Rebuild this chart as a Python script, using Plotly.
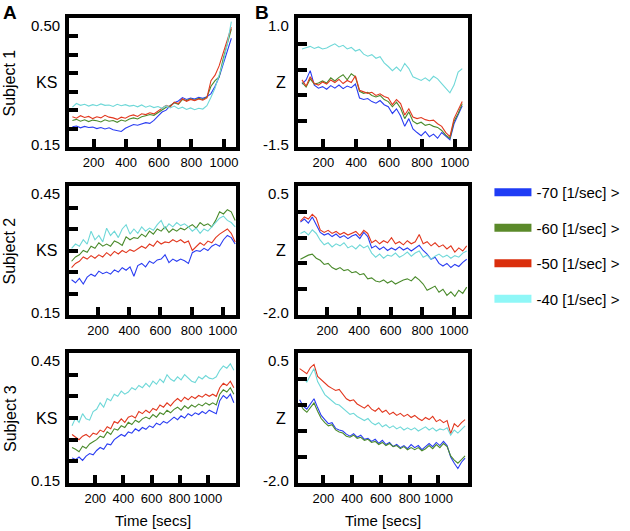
import plotly.graph_objects as go

# time samples (secs) for each row of panels
T1 = list(range(70, 1046, 25))
T2 = list(range(30, 1081, 25))
T3 = list(range(35, 1186, 25))

SERIES = ["-70 [1/sec] >", "-60 [1/sec] >", "-50 [1/sec] >", "-40 [1/sec] >"]
LINE_COLORS = ["#2a3df2", "#4b8b2c", "#e2381f", "#6fd8d8"]
LEGEND_COLORS = ["#1f3cf5", "#5b8a2a", "#da2e0c", "#8ff7f7"]

# Subject 1
ks1_blue = [0.205, 0.207, 0.202, 0.206, 0.203, 0.204, 0.200, 0.203, 0.199, 0.202,
            0.197, 0.195, 0.192, 0.201, 0.206, 0.211, 0.209, 0.213, 0.216, 0.214,
            0.222, 0.234, 0.245, 0.250, 0.262, 0.270, 0.275, 0.284, 0.279, 0.283,
            0.280, 0.285, 0.282, 0.286, 0.295, 0.315, 0.34, 0.375, 0.41, 0.445]
ks1_green = [0.222, 0.225, 0.220, 0.224, 0.219, 0.223, 0.221, 0.218, 0.224, 0.220,
             0.222, 0.217, 0.223, 0.220, 0.226, 0.229, 0.226, 0.232, 0.235, 0.238,
             0.236, 0.244, 0.250, 0.258, 0.262, 0.270, 0.266, 0.279, 0.276, 0.281,
             0.277, 0.282, 0.279, 0.285, 0.315, 0.33, 0.34, 0.39, 0.43, 0.47]
ks1_red = [0.232, 0.228, 0.235, 0.230, 0.233, 0.227, 0.232, 0.229, 0.236, 0.231,
           0.229, 0.225, 0.231, 0.228, 0.234, 0.237, 0.233, 0.240, 0.238, 0.243,
           0.240, 0.248, 0.256, 0.263, 0.258, 0.272, 0.268, 0.281, 0.274, 0.279,
           0.276, 0.280, 0.277, 0.283, 0.33, 0.345, 0.37, 0.405, 0.44, 0.475]
ks1_cyan = [0.258, 0.268, 0.263, 0.266, 0.261, 0.265, 0.262, 0.267, 0.263, 0.264,
            0.260, 0.266, 0.262, 0.265, 0.261, 0.263, 0.259, 0.264, 0.258, 0.262,
            0.257, 0.260, 0.255, 0.262, 0.256, 0.261, 0.254, 0.258, 0.252, 0.256,
            0.251, 0.255, 0.253, 0.262, 0.285, 0.31, 0.345, 0.38, 0.43, 0.49]

z1_blue = [-0.28, -0.20, -0.02, -0.30, -0.36, -0.33, -0.38, -0.31, -0.36, -0.30,
           -0.37, -0.32, -0.35, -0.28, -0.55, -0.58, -0.56, -0.62, -0.65, -0.60,
           -0.68, -0.72, -0.85, -0.76, -0.90, -1.10, -0.95, -1.15, -1.22, -1.28,
           -1.20, -1.30, -1.25, -1.33, -1.22, -1.30, -1.36, -1.05, -0.88, -0.70]
z1_green = [-0.25, -0.34, -0.18, -0.28, -0.26, -0.22, -0.26, -0.16, -0.22, -0.15,
            -0.10, -0.20, -0.08, -0.14, -0.42, -0.46, -0.44, -0.50, -0.53, -0.50,
            -0.58, -0.62, -0.72, -0.63, -0.75, -0.95, -0.82, -1.00, -1.05, -1.02,
            -1.08, -1.06, -1.10, -1.12, -1.18, -1.27, -1.33, -1.00, -0.85, -0.66]
z1_red = [-0.20, -0.32, -0.14, -0.27, -0.30, -0.24, -0.28, -0.20, -0.25, -0.19,
          -0.27, -0.21, -0.25, -0.12, -0.40, -0.43, -0.46, -0.44, -0.50, -0.47,
          -0.52, -0.55, -0.68, -0.58, -0.66, -0.88, -0.76, -0.92, -0.95, -0.93,
          -0.97, -0.99, -0.98, -1.05, -1.10, -1.22, -1.30, -0.95, -0.80, -0.62]
z1_cyan = [0.40, 0.43, 0.45, 0.41, 0.44, 0.40, 0.42, 0.46, 0.50, 0.44,
           0.47, 0.40, 0.43, 0.36, 0.39, 0.30, 0.26, 0.29, 0.22, 0.25,
           0.13, 0.06, -0.02, 0.05, -0.03, 0.12, 0.02, -0.14, -0.18, -0.21,
           -0.16, -0.22, -0.13, -0.18, -0.27, -0.35, -0.45, -0.30, -0.05, 0.02]

# Subject 2
ks2_blue = [0.232, 0.225, 0.235, 0.222, 0.238, 0.245, 0.24, 0.252, 0.246, 0.25,
            0.245, 0.255, 0.25, 0.26, 0.254, 0.262, 0.24, 0.265, 0.27, 0.262,
            0.275, 0.27, 0.278, 0.28, 0.29, 0.272, 0.28, 0.275, 0.28, 0.276,
            0.27, 0.295, 0.30, 0.298, 0.305, 0.30, 0.31, 0.315, 0.31, 0.325,
            0.335, 0.33, 0.315]
ks2_green = [0.275, 0.285, 0.29, 0.30, 0.296, 0.31, 0.305, 0.318, 0.31, 0.315,
             0.31, 0.322, 0.318, 0.312, 0.332, 0.325, 0.33, 0.328, 0.338, 0.332,
             0.345, 0.338, 0.35, 0.345, 0.355, 0.342, 0.35, 0.345, 0.352, 0.348,
             0.355, 0.36, 0.352, 0.365, 0.358, 0.362, 0.355, 0.37, 0.39, 0.385,
             0.395, 0.39, 0.37]
ks2_red = [0.26, 0.27, 0.275, 0.285, 0.28, 0.288, 0.282, 0.29, 0.285, 0.295,
           0.288, 0.298, 0.292, 0.30, 0.295, 0.302, 0.298, 0.305, 0.31, 0.305,
           0.315, 0.31, 0.322, 0.315, 0.32, 0.318, 0.325, 0.32, 0.325, 0.318,
           0.322, 0.30, 0.31, 0.318, 0.312, 0.322, 0.318, 0.33, 0.338, 0.345,
           0.35, 0.34, 0.32]
ks2_cyan = [0.305, 0.315, 0.31, 0.325, 0.315, 0.345, 0.325, 0.335, 0.32, 0.352,
            0.335, 0.345, 0.33, 0.35, 0.36, 0.338, 0.35, 0.34, 0.355, 0.345,
            0.352, 0.347, 0.36, 0.37, 0.35, 0.362, 0.355, 0.365, 0.358, 0.362,
            0.355, 0.345, 0.352, 0.34, 0.35, 0.345, 0.355, 0.365, 0.375, 0.38,
            0.37, 0.365, 0.355]

z2_blue = [-0.20, -0.14, -0.22, -0.10, -0.25, -0.40, -0.45, -0.42, -0.48, -0.43,
           -0.50, -0.46, -0.52, -0.47, -0.44, -0.52, -0.40, -0.48, -0.70, -0.66,
           -0.73, -0.68, -0.75, -0.70, -0.74, -0.68, -0.74, -0.70, -0.76, -0.70,
           -0.65, -0.75, -0.82, -0.92, -0.88, -1.00, -1.05, -1.00, -1.08, -1.02,
           -1.06, -0.98, -0.92]
z2_green = [-0.92, -0.88, -0.84, -0.82, -0.90, -0.94, -1.02, -1.00, -1.08, -1.12,
            -1.08, -1.14, -1.12, -1.18, -1.16, -1.22, -1.20, -1.30, -1.28, -1.34,
            -1.36, -1.32, -1.38, -1.34, -1.40, -1.36, -1.32, -1.30, -1.34, -1.26,
            -1.32, -1.40, -1.52, -1.48, -1.44, -1.56, -1.50, -1.62, -1.55, -1.64,
            -1.52, -1.58, -1.46]
z2_red = [-0.18, -0.10, -0.14, -0.05, -0.12, -0.35, -0.40, -0.36, -0.42, -0.38,
          -0.44, -0.40, -0.45, -0.41, -0.38, -0.46, -0.36, -0.42, -0.60, -0.55,
          -0.62, -0.56, -0.60, -0.50, -0.62, -0.58, -0.64, -0.56, -0.62, -0.58,
          -0.44, -0.62, -0.58, -0.66, -0.60, -0.68, -0.64, -0.72, -0.66, -0.78,
          -0.70, -0.76, -0.66]
z2_cyan = [-0.42, -0.38, -0.45, -0.35, -0.42, -0.55, -0.64, -0.60, -0.68, -0.62,
           -0.66, -0.60, -0.70, -0.66, -0.72, -0.64, -0.70, -0.66, -0.80, -0.88,
           -0.82, -0.90, -0.84, -0.86, -0.80, -0.88, -0.84, -0.78, -0.86, -0.80,
           -0.76, -0.88, -0.84, -0.92, -0.86, -0.82, -0.88, -0.84, -0.90, -0.85,
           -0.88, -0.80, -0.76]

# Subject 3
ks3_blue = [0.208, 0.204, 0.21, 0.202, 0.212, 0.218, 0.215, 0.225, 0.232, 0.228,
            0.24, 0.238, 0.25, 0.256, 0.262, 0.258, 0.268, 0.265, 0.275, 0.27,
            0.278, 0.274, 0.282, 0.278, 0.288, 0.284, 0.292, 0.288, 0.296, 0.302,
            0.296, 0.305, 0.30, 0.31, 0.305, 0.312, 0.308, 0.315, 0.31, 0.318,
            0.314, 0.31, 0.34, 0.352, 0.345, 0.355, 0.335]
ks3_green = [0.232, 0.228, 0.222, 0.235, 0.23, 0.24, 0.245, 0.25, 0.258, 0.255,
             0.268, 0.262, 0.275, 0.272, 0.282, 0.278, 0.29, 0.285, 0.295, 0.29,
             0.298, 0.302, 0.298, 0.308, 0.302, 0.312, 0.308, 0.318, 0.312, 0.32,
             0.325, 0.318, 0.328, 0.322, 0.33, 0.325, 0.332, 0.328, 0.335, 0.33,
             0.335, 0.33, 0.355, 0.365, 0.36, 0.37, 0.355]
ks3_red = [0.262, 0.255, 0.25, 0.258, 0.262, 0.256, 0.265, 0.262, 0.272, 0.268,
           0.28, 0.275, 0.292, 0.288, 0.298, 0.29, 0.302, 0.305, 0.30, 0.315,
           0.31, 0.318, 0.312, 0.322, 0.318, 0.33, 0.325, 0.335, 0.328, 0.338,
           0.345, 0.338, 0.348, 0.342, 0.35, 0.345, 0.352, 0.348, 0.355, 0.35,
           0.355, 0.35, 0.37, 0.38, 0.375, 0.385, 0.37]
ks3_cyan = [0.282, 0.30, 0.29, 0.31, 0.298, 0.295, 0.315, 0.32, 0.335, 0.325,
            0.345, 0.34, 0.355, 0.35, 0.362, 0.355, 0.36, 0.37, 0.365, 0.375,
            0.37, 0.38, 0.372, 0.385, 0.378, 0.39, 0.382, 0.40, 0.39, 0.385,
            0.395, 0.388, 0.40, 0.392, 0.385, 0.382, 0.395, 0.39, 0.398, 0.392,
            0.39, 0.395, 0.41, 0.42, 0.415, 0.425, 0.41]

z3_blue = [-0.40, -0.52, -0.58, -0.48, -0.38, -0.55, -0.70, -0.78, -0.86, -0.84,
           -0.95, -0.98, -1.00, -1.06, -1.10, -1.05, -1.12, -1.08, -1.16, -1.14,
           -1.20, -1.16, -1.24, -1.18, -1.26, -1.22, -1.30, -1.26, -1.32, -1.28,
           -1.34, -1.26, -1.32, -1.28, -1.36, -1.30, -1.24, -1.30, -1.22, -1.28,
           -1.20, -1.28, -1.50, -1.62, -1.72, -1.60, -1.52]
z3_green = [-0.46, -0.58, -0.64, -0.54, -0.46, -0.62, -0.76, -0.84, -0.90, -0.88,
            -0.98, -1.02, -1.04, -1.10, -1.12, -1.08, -1.14, -1.12, -1.18, -1.16,
            -1.22, -1.20, -1.26, -1.22, -1.28, -1.24, -1.30, -1.28, -1.34, -1.30,
            -1.36, -1.32, -1.36, -1.32, -1.38, -1.34, -1.28, -1.34, -1.26, -1.32,
            -1.24, -1.30, -1.48, -1.56, -1.62, -1.55, -1.48]
z3_red = [0.20, 0.15, 0.10, 0.22, 0.28, 0.05, -0.02, -0.08, -0.14, -0.18,
          -0.22, -0.20, -0.30, -0.38, -0.42, -0.40, -0.48, -0.52, -0.56, -0.50,
          -0.58, -0.62, -0.56, -0.64, -0.60, -0.68, -0.64, -0.70, -0.66, -0.72,
          -0.68, -0.74, -0.70, -0.76, -0.80, -0.74, -0.78, -0.72, -0.82, -0.78,
          -0.84, -0.80, -1.05, -0.86, -0.92, -0.84, -0.78]
z3_cyan = [0.00, 0.02, -0.06, 0.08, 0.20, -0.05, -0.18, -0.30, -0.36, -0.42,
           -0.48, -0.50, -0.56, -0.62, -0.68, -0.66, -0.72, -0.76, -0.80, -0.76,
           -0.84, -0.88, -0.84, -0.92, -0.88, -0.94, -0.90, -0.96, -0.92, -0.98,
           -0.94, -0.98, -0.94, -1.00, -0.96, -0.92, -0.98, -0.94, -1.00, -0.96,
           -0.98, -0.94, -1.08, -0.98, -1.04, -0.96, -0.90]

FONT = "Liberation Sans, Arial, Helvetica, sans-serif"
W, H = 630, 531

# panel boxes in pixels: (left, right) and (top, bottom)
COLS = [(69, 237), (299, 469)]
ROWS = [(18, 147), (186, 315), (353, 483)]

panels = [
    dict(t=T1, vals=[ks1_blue, ks1_green, ks1_red, ks1_cyan], xr=[48, 1075],
         yr=[0.15, 0.50], yt=[0.20, 0.25, 0.30, 0.35, 0.40, 0.45], lab=("0.50", "0.15", "KS")),
    dict(t=T1, vals=[z1_blue, z1_green, z1_red, z1_cyan], xr=[46, 1077],
         yr=[-1.5, 1.0], yt=[-1.0, -0.5, 0.0, 0.5], lab=("1.0", "-1.5", "Z")),
    dict(t=T2, vals=[ks2_blue, ks2_green, ks2_red, ks2_cyan], xr=[12, 1087],
         yr=[0.15, 0.45], yt=[0.20, 0.25, 0.30, 0.35, 0.40], lab=("0.45", "0.15", "KS")),
    dict(t=T2, vals=[z2_blue, z2_green, z2_red, z2_cyan], xr=[15, 1085],
         yr=[-2.0, 0.5], yt=[-1.5, -1.0, -0.5, 0.0], lab=("0.5", "-2.0", "Z")),
    dict(t=T3, vals=[ks3_blue, ks3_green, ks3_red, ks3_cyan], xr=[12, 1202],
         yr=[0.15, 0.45], yt=[0.20, 0.25, 0.30, 0.35, 0.40], lab=("0.45", "0.15", "KS")),
    dict(t=T3, vals=[z3_blue, z3_green, z3_red, z3_cyan], xr=[24, 1202],
         yr=[-2.0, 0.5], yt=[-1.5, -1.0, -0.5, 0.0], lab=("0.5", "-2.0", "Z")),
]

fig = go.Figure()
annotations = []
layout = {}

for i, p in enumerate(panels):
    n = i + 1
    r, c = divmod(i, 2)
    sfx = "" if n == 1 else str(n)
    xa, ya = "x" + sfx, "y" + sfx
    for name, vals, col in zip(SERIES, p["vals"], LINE_COLORS):
        fig.add_trace(go.Scatter(x=p["t"], y=vals, mode="lines", name=name,
                                 line=dict(color=col, width=1.1),
                                 xaxis=xa, yaxis=ya, showlegend=False))
    (x0, x1), (y0, y1) = COLS[c], ROWS[r]
    axis_common = dict(showline=True, mirror=True, linewidth=4, linecolor="black",
                       ticks="inside", tickwidth=3.5, tickcolor="black",
                       showgrid=False, zeroline=False, fixedrange=True)
    layout["xaxis" + sfx] = dict(axis_common, domain=[x0 / W, x1 / W], anchor=ya,
                                 range=p["xr"], tickvals=[200, 400, 600, 800, 1000],
                                 ticklen=8, tickfont=dict(size=13, color="black"))
    layout["yaxis" + sfx] = dict(axis_common, domain=[1 - y1 / H, 1 - y0 / H], anchor=xa,
                                 range=p["yr"], tickvals=p["yt"], ticklen=9,
                                 showticklabels=False)
    top, bottom, name = p["lab"]
    for txt, yy in [(top, 0.945), (bottom, 0.02)]:
        annotations.append(dict(text=txt, xref=xa + " domain", yref=ya + " domain",
                                x=0, y=yy, xanchor="right", yanchor="middle",
                                xshift=-7, showarrow=False, font=dict(size=15)))
    annotations.append(dict(text=name, xref=xa + " domain", yref=ya + " domain",
                            x=0, y=0.5, xanchor="right", yanchor="middle",
                            xshift=-10, showarrow=False, font=dict(size=16)))
    if c == 0:
        annotations.append(dict(text="Subject %d" % (r + 1), xref="paper", yref=ya + " domain",
                                x=10 / W, y=0.5, textangle=-90, xanchor="center",
                                yanchor="middle", showarrow=False, font=dict(size=16)))
    if r == 2:
        annotations.append(dict(text="Time [secs]", xref=xa + " domain", yref="paper",
                                x=0.5, y=1 - 520 / H, xanchor="center", yanchor="middle",
                                showarrow=False, font=dict(size=15)))

annotations.append(dict(text="<b>A</b>", xref="paper", yref="paper", x=10 / W, y=1 - 12 / H,
                        xanchor="center", yanchor="middle", showarrow=False, font=dict(size=19)))
annotations.append(dict(text="<b>B</b>", xref="paper", yref="paper", x=263 / W, y=1 - 12 / H,
                        xanchor="center", yanchor="middle", showarrow=False, font=dict(size=19)))

# legend entries
for k, (name, col) in enumerate(zip(SERIES, LEGEND_COLORS)):
    fig.add_trace(go.Scatter(x=[None], y=[None], mode="lines", name=name,
                             line=dict(color=col, width=8), legendgroup="g%d" % k,
                             showlegend=True))

fig.update_layout(
    width=W, height=H, autosize=False,
    margin=dict(l=0, r=0, t=0, b=0),
    paper_bgcolor="white", plot_bgcolor="white",
    font=dict(family=FONT, color="black"),
    annotations=annotations,
    legend=dict(x=491 / W, y=1 - 176 / H, xanchor="left", yanchor="top",
                font=dict(size=15), itemwidth=37, tracegroupgap=13,
                bgcolor="rgba(0,0,0,0)"),
    **layout,
)

# drop the default page margin so the figure sits at the window's corner
fig.write_html("out.html", config={"displayModeBar": False},
               post_script="document.body.style.margin = '0';")
